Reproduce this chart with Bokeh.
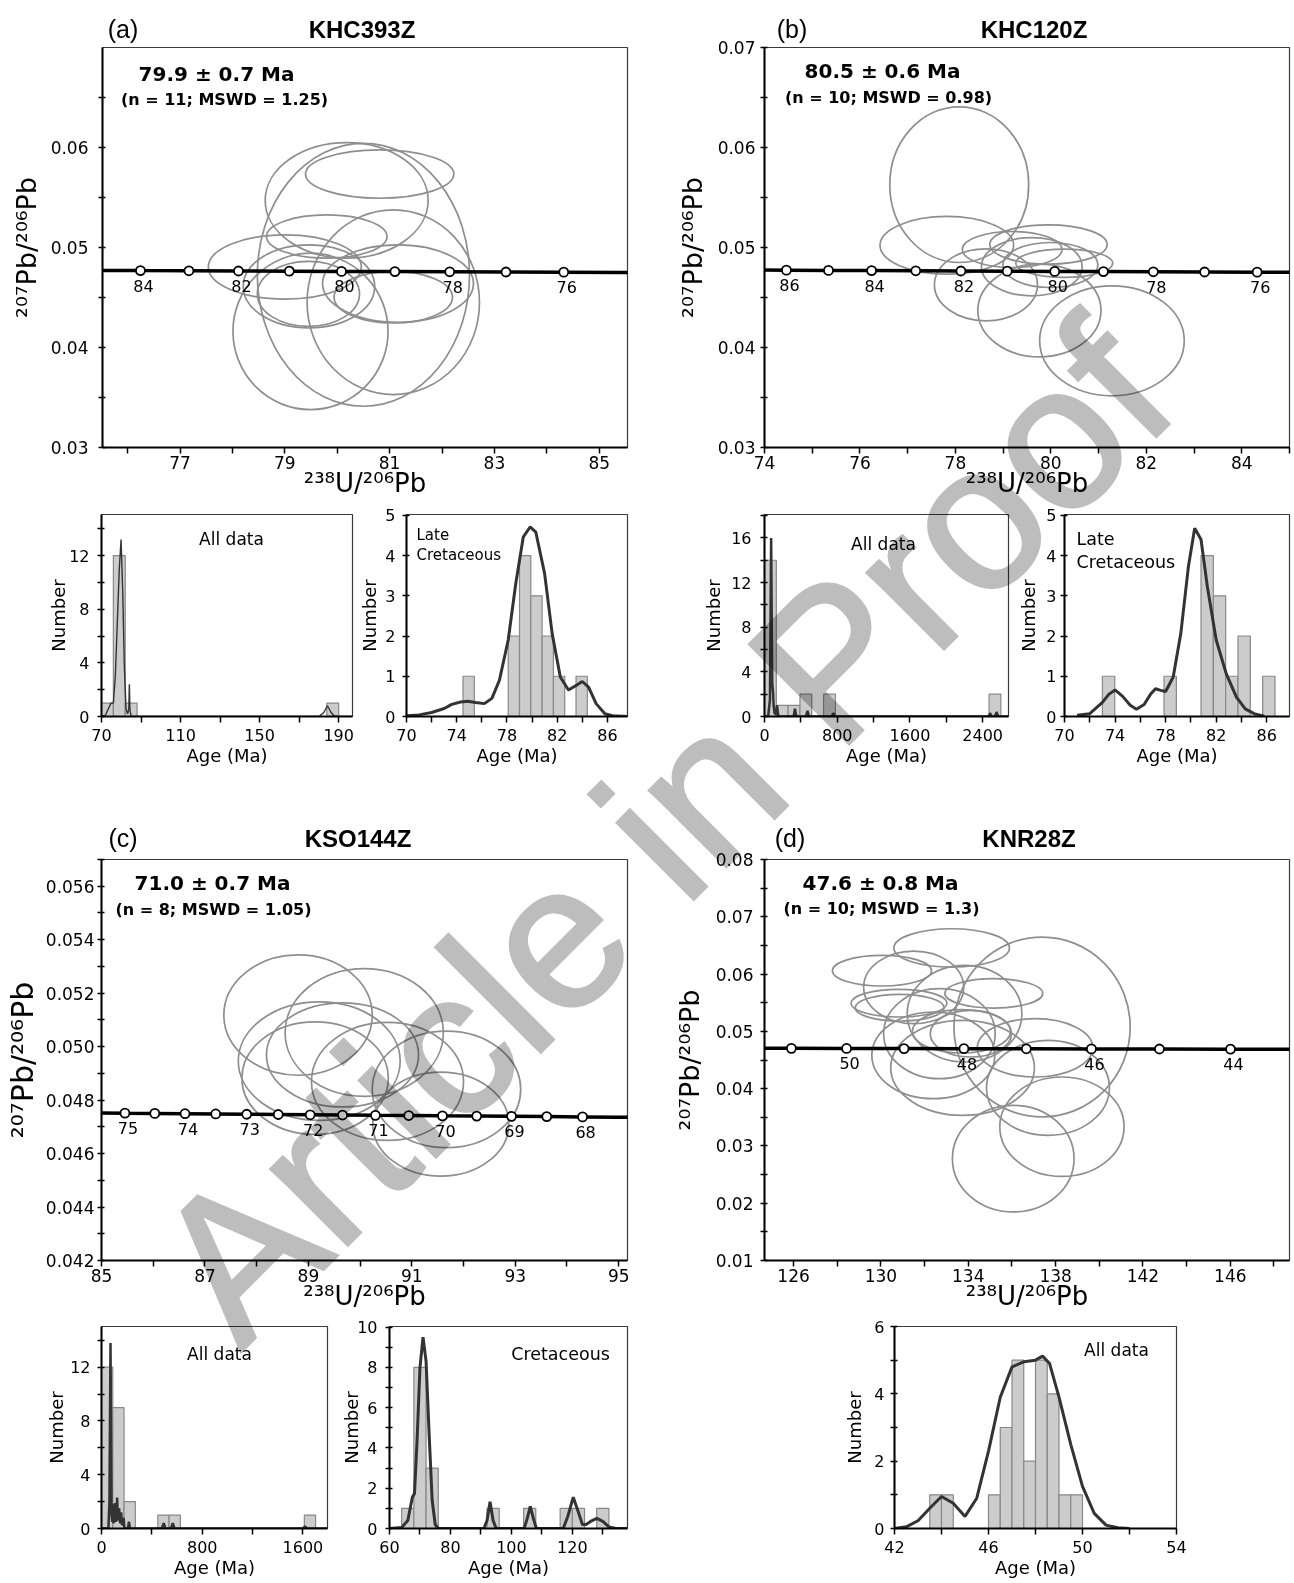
from bokeh.plotting import figure
from bokeh.models import Range1d, FixedTicker, PrintfTickFormatter, Label, Div
from bokeh.layouts import row, column
from bokeh.embed import file_html
from bokeh.resources import INLINE
from bokeh.core.properties import value

FONT = "DejaVu Sans"

# ---------------- panel titles ----------------
PANEL_TAGS = ["(a)", "(b)", "(c)", "(d)"]
PANEL_NAMES = ["KHC393Z", "KHC120Z", "KSO144Z", "KNR28Z"]

# ---------------- (a) KHC393Z ----------------
A_ell_x = [80.81, 80.18, 80.50, 79.49, 81.07, 79.80, 79.00, 79.46, 79.45, 81.07, 81.16]
A_ell_y = [0.05734, 0.05471, 0.04727, 0.04161, 0.04453, 0.05110, 0.04805, 0.04611, 0.04536, 0.04503, 0.04639]
A_ell_w = [2.83, 3.11, 4.05, 2.96, 3.29, 2.30, 2.92, 2.51, 1.95, 2.26, 2.88]
A_ell_h = [0.00483, 0.01155, 0.02629, 0.01564, 0.01847, 0.00433, 0.00642, 0.00832, 0.00649, 0.00516, 0.00775]
A_conc_x = [75.341, 76.244, 77.169, 78.115, 79.086, 80.081, 81.101, 82.147, 83.221, 84.323, 85.453, 86.615]
A_conc_y = [0.047711, 0.047691, 0.047671, 0.047651, 0.047631, 0.047611, 0.047591, 0.047571, 0.047551, 0.047531, 0.047511, 0.047491]
A_mark_x = [76.244, 77.169, 78.115, 79.086, 80.081, 81.101, 82.147, 83.221, 84.323]
A_mark_y = [0.047691, 0.047671, 0.047651, 0.047631, 0.047611, 0.047591, 0.047571, 0.047551, 0.047531]
A_age_x = [76.244, 78.115, 80.081, 82.147, 84.323]
A_age_y = [0.047691, 0.047651, 0.047611, 0.047571, 0.047531]
A_age_t = ["84", "82", "80", "78", "76"]

# ---------------- (b) KHC120Z ----------------
B_ell_x = [78.08, 77.82, 78.64, 79.76, 81.28, 79.19, 79.95, 79.60, 79.99, 80.28]
B_ell_y = [0.05628, 0.05022, 0.04627, 0.04370, 0.04067, 0.04980, 0.05030, 0.04808, 0.04825, 0.04842]
B_ell_w = [2.91, 2.80, 2.16, 2.58, 3.03, 2.09, 2.46, 2.11, 1.99, 2.03]
B_ell_h = [0.01557, 0.00577, 0.00720, 0.00927, 0.01100, 0.00360, 0.00393, 0.00583, 0.00450, 0.00283]
B_conc_x = [73.597, 74.459, 75.341, 76.244, 77.169, 78.115, 79.086, 80.081, 81.101, 82.147, 83.221, 84.323, 85.453]
B_conc_y = [0.047751, 0.047731, 0.047711, 0.047691, 0.047671, 0.047651, 0.047631, 0.047611, 0.047591, 0.047571, 0.047551, 0.047531, 0.047511]
B_mark_x = [74.459, 75.341, 76.244, 77.169, 78.115, 79.086, 80.081, 81.101, 82.147, 83.221, 84.323]
B_mark_y = [0.047731, 0.047711, 0.047691, 0.047671, 0.047651, 0.047631, 0.047611, 0.047591, 0.047571, 0.047551, 0.047531]
B_age_x = [74.459, 76.244, 78.115, 80.081, 82.147, 84.323]
B_age_y = [0.047731, 0.047691, 0.047651, 0.047611, 0.047571, 0.047531]
B_age_t = ["86", "84", "82", "80", "78", "76"]

# ---------------- (c) KSO144Z ----------------
C_ell_x = [88.80, 90.08, 89.21, 89.13, 89.66, 90.53, 91.67, 91.56]
C_ell_y = [0.05118, 0.05053, 0.04946, 0.04882, 0.04969, 0.04870, 0.04840, 0.04710]
C_ell_w = [2.87, 3.06, 3.13, 2.83, 2.94, 2.94, 2.87, 2.63]
C_ell_h = [0.00450, 0.00478, 0.00443, 0.00421, 0.00389, 0.00442, 0.00436, 0.00389]
C_conc_x = [84.884, 85.453, 86.030, 86.615, 87.208, 87.808, 88.417, 89.035, 89.660, 90.296, 90.940, 91.592, 92.255, 92.927, 93.609, 94.301, 95.004, 95.716]
C_conc_y = [0.047521, 0.047511, 0.047501, 0.047491, 0.047481, 0.047471, 0.047461, 0.047451, 0.047441, 0.047431, 0.047422, 0.047412, 0.047402, 0.047392, 0.047382, 0.047372, 0.047362, 0.047352]
C_mark_x = [85.453, 86.030, 86.615, 87.208, 87.808, 88.417, 89.035, 89.660, 90.296, 90.940, 91.592, 92.255, 92.927, 93.609, 94.301]
C_mark_y = [0.047511, 0.047501, 0.047491, 0.047481, 0.047471, 0.047461, 0.047451, 0.047441, 0.047431, 0.047422, 0.047412, 0.047402, 0.047392, 0.047382, 0.047372]
C_age_x = [85.453, 86.615, 87.808, 89.035, 90.296, 91.592, 92.927, 94.301]
C_age_y = [0.047511, 0.047491, 0.047471, 0.047451, 0.047431, 0.047412, 0.047392, 0.047372]
C_age_t = ["75", "74", "73", "72", "71", "70", "69", "68"]

# ---------------- (d) KNR28Z ----------------
D_ell_x = [133.24, 130.05, 131.50, 130.83, 130.86, 135.17, 137.38, 133.83, 132.68, 133.69, 132.40, 133.74, 137.06, 137.65, 138.29, 136.06, 134.12]
D_ell_y = [0.06457, 0.06059, 0.05768, 0.05492, 0.05413, 0.05663, 0.05076, 0.05308, 0.04959, 0.05000, 0.04581, 0.04363, 0.04712, 0.04014, 0.03336, 0.02778, 0.04959]
D_ell_w = [5.29, 4.54, 4.58, 4.39, 4.07, 4.48, 8.07, 5.25, 5.11, 4.50, 5.63, 6.58, 5.29, 5.63, 5.69, 5.57, 3.72]
D_ell_h = [0.00669, 0.00535, 0.01268, 0.00483, 0.00465, 0.00512, 0.03141, 0.01687, 0.01571, 0.00756, 0.01512, 0.01658, 0.01018, 0.01658, 0.01734, 0.01862, 0.00814]
D_conc_x = [123.470, 125.901, 128.428, 131.060, 133.801, 136.659, 139.640, 142.754, 146.010, 149.417]
D_conc_y = [0.047055, 0.047035, 0.047015, 0.046996, 0.046976, 0.046956, 0.046936, 0.046917, 0.046897, 0.046877]
D_mark_x = [125.901, 128.428, 131.060, 133.801, 136.659, 139.640, 142.754, 146.010]
D_mark_y = [0.047035, 0.047015, 0.046996, 0.046976, 0.046956, 0.046936, 0.046917, 0.046897]
D_age_x = [128.428, 133.801, 139.640, 146.010]
D_age_y = [0.047015, 0.046976, 0.046936, 0.046897]
D_age_t = ["50", "48", "46", "44"]

# ---------------- histograms ----------------
A1_left = [70, 76, 82, 184]
A1_right = [76, 82, 88, 190]
A1_count = [1, 12, 1, 1]
A1_kde_x = [70, 72, 73.5, 74.8, 76, 77, 78, 79, 79.9, 80.8, 81.5, 82.4, 83.2, 83.8, 84.1, 84.4, 85, 180, 182.5, 184.3, 186.2, 188, 197]
A1_kde_y = [0, 0.1, 0.6, 1.0, 1.0, 3.0, 7.0, 11.0, 13.2, 9.0, 4.0, 0.6, 0.2, 0.5, 2.4, 0.5, 0, 0, 0.3, 0.8, 0.3, 0, 0]

A2_left = [74.5, 78.1, 79.0, 79.9, 80.8, 81.7, 83.5]
A2_right = [75.4, 79.0, 79.9, 80.8, 81.7, 82.6, 84.4]
A2_count = [1, 2, 4, 3, 2, 1, 1]
A2_kde_x = [70, 71, 72, 73, 73.6, 74.3, 74.9, 75.5, 76.2, 76.8, 77.4, 78.1, 78.7, 79.3, 79.84, 80.3, 81.0, 81.6, 82.25, 82.9, 83.5, 84.0, 84.5, 85.1, 85.8, 86.4, 87.6]
A2_kde_y = [0.02, 0.04, 0.1, 0.2, 0.3, 0.36, 0.38, 0.35, 0.32, 0.45, 0.9, 1.9, 3.3, 4.46, 4.71, 4.58, 3.55, 2.06, 0.98, 0.66, 0.77, 0.87, 0.73, 0.32, 0.07, 0.02, 0.0]

B1_left = [0, 130, 260, 390, 650, 2470]
B1_right = [130, 260, 390, 520, 780, 2600]
B1_count = [14, 1, 1, 2, 2, 2]
B1_kde_x = [0, 40, 60, 73, 85, 95, 100, 110, 125, 138, 150, 170, 320, 335, 350, 455, 473, 490, 740, 757, 775, 2465, 2483, 2500, 2535, 2552, 2570, 2684]
B1_kde_y = [0, 0, 1.5, 16, 3, 2.0, 1.0, 0.3, 0.2, 1.0, 0.1, 0, 0, 0.7, 0, 0, 0.5, 0, 0, 0.3, 0, 0, 0.3, 0, 0, 0.4, 0, 0]

B2_left = [73.0, 77.875, 80.8, 81.775, 82.75, 83.725, 85.675]
B2_right = [73.975, 78.85, 81.775, 82.75, 83.725, 84.7, 86.65]
B2_count = [1, 1, 4, 3, 1, 2, 1]
B2_kde_x = [71, 72, 73, 73.5, 74.0, 74.6, 75.2, 75.7, 76.3, 76.8, 77.2, 77.6, 78.0, 78.6, 79.2, 79.8, 80.3, 80.8, 81.3, 82.0, 82.8, 83.6, 84.3, 85.0, 85.8]
B2_kde_y = [0.03, 0.07, 0.35, 0.55, 0.66, 0.5, 0.28, 0.18, 0.3, 0.55, 0.69, 0.65, 0.62, 0.98, 2.06, 3.72, 4.68, 4.4, 3.23, 1.9, 1.06, 0.48, 0.19, 0.07, 0.01]

C1_left = [0, 89.5, 179, 447.5, 537, 1611]
C1_right = [89.5, 179, 268.5, 537, 626.5, 1700.5]
C1_count = [12, 9, 2, 1, 1, 1]
C1_kde_x = [0, 55, 63, 71.5, 80, 86, 91, 96, 101, 107, 113, 118, 124, 130, 135, 140, 146, 151, 156, 162, 170, 176, 182, 210, 218, 226, 480, 494, 508, 552, 566, 580, 1600, 1616, 1632, 1795]
C1_kde_y = [0, 0, 2, 13.8, 1.0, 0.5, 1.8, 0.4, 0.6, 1.9, 0.5, 0.7, 2.3, 0.8, 0.6, 1.5, 0.5, 0.4, 1.2, 0.3, 0.3, 0.8, 0, 0, 0.5, 0, 0, 0.4, 0, 0, 0.4, 0, 0, 0.15, 0, 0]

C2_left = [64, 68, 72, 92, 104, 116, 120, 128]
C2_right = [68, 72, 76, 96, 108, 120, 124, 132]
C2_count = [1, 8, 3, 1, 1, 1, 1, 1]
C2_kde_x = [60, 64, 66, 67.5, 68.2, 69, 70, 71, 72, 73, 74, 75, 76, 91, 92, 93, 94, 95, 104.2, 105.2, 106.2, 107.2, 108.2, 117, 118.5, 120.3, 122, 123.3, 124.5, 126, 128, 130, 132, 134, 138]
C2_kde_y = [0, 0.05, 0.4, 1.55, 1.74, 4.2, 8.0, 9.5, 8.3, 4.7, 1.4, 0.2, 0, 0, 0.4, 1.33, 0.4, 0, 0, 0.5, 1.1, 0.5, 0, 0, 0.6, 1.55, 0.8, 0.2, 0.2, 0.35, 0.5, 0.35, 0.08, 0.01, 0]

D1_left = [43.5, 44.0, 46.0, 46.5, 47.0, 47.5, 48.0, 48.5, 49.0, 49.5]
D1_right = [44.0, 44.5, 46.5, 47.0, 47.5, 48.0, 48.5, 49.0, 49.5, 50.0]
D1_count = [1, 1, 1, 3, 5, 2, 5, 4, 1, 1]
D1_kde_x = [42, 42.5, 43, 43.5, 44, 44.5, 45, 45.5, 46, 46.5, 47, 47.5, 48, 48.3, 48.6, 49, 49.5, 50, 50.5, 51, 51.5, 52]
D1_kde_y = [0, 0.05, 0.23, 0.6, 0.95, 0.75, 0.36, 0.9, 2.3, 3.9, 4.8, 4.95, 5.0, 5.12, 4.9, 3.9, 2.5, 1.25, 0.45, 0.1, 0.02, 0]

# ---------------- helpers ----------------
def base_fig(g, xr, yr):
    x0, y0, w, h, bl, br, bt, bb = g
    p = figure(width=w, height=h, x_range=Range1d(*xr), y_range=Range1d(*yr),
               output_backend="svg", toolbar_location=None,
               min_border_left=bl, min_border_right=br, min_border_top=bt, min_border_bottom=bb)
    p.xgrid.visible = False
    p.ygrid.visible = False
    p.outline_line_color = "#3a3a3a"
    p.outline_line_width = 1.2
    p.background_fill_color = "white"
    p.border_fill_color = "white"
    return p


def style_axis(ax, major, minor, fmt, label, label_size, tick_size, t_out, t_in, standoff, lab_standoff):
    ax.ticker = FixedTicker(ticks=major, minor_ticks=minor)
    ax.formatter = PrintfTickFormatter(format=fmt)
    ax.axis_label = label
    ax.axis_label_text_font = FONT
    ax.axis_label_text_font_size = f"{label_size}px"
    ax.axis_label_text_font_style = "normal"
    ax.axis_label_text_color = "black"
    ax.axis_label_standoff = lab_standoff
    ax.major_label_text_font = FONT
    ax.major_label_text_font_size = f"{tick_size}px"
    ax.major_label_text_color = "black"
    ax.major_label_standoff = standoff
    ax.axis_line_color = "black"
    ax.axis_line_width = 2
    ax.major_tick_line_color = "black"
    ax.minor_tick_line_color = "black"
    ax.major_tick_line_width = 1.5
    ax.minor_tick_line_width = 1.5
    ax.major_tick_out = t_out
    ax.major_tick_in = t_in
    ax.minor_tick_out = t_out
    ax.minor_tick_in = t_in


def put(p, g, px, py, text, size, bold=False, align="center"):
    x0, y0, w, h, bl, br, bt, bb = g
    fx0 = x0 + bl
    fy1 = y0 + h - bb
    p.add_layout(Label(x=px - fx0, y=fy1 - py, x_units="screen", y_units="screen", text=text,
                       text_font=FONT, text_font_size=f"{size}px",
                       text_font_style="bold" if bold else "normal",
                       text_align=align, text_baseline="middle", text_color="black"))


def concordia(g, xr, yr, ex, ey, ew, eh, cx, cy, mx, my, ax_, ay_, at_):
    p = base_fig(g, xr, yr)
    p.ellipse(x=ex, y=ey, width=ew, height=eh, fill_color=None, line_color="#8e8e8e", line_width=1.7)
    p.line(x=cx, y=cy, line_color="black", line_width=3.5)
    p.scatter(x=mx, y=my, marker="circle", size=9, fill_color="white", line_color="black", line_width=1.8)
    p.text(x=ax_, y=ay_, text=at_, x_offset=3, y_offset=15, text_align="center", text_baseline="middle",
           text_font=value(FONT), text_font_size=value("16px"), text_color="black")
    return p


def hist(g, xr, yr, left, right, count, kx, ky, kw):
    p = base_fig(g, xr, yr)
    p.quad(left=left, right=right, bottom=0, top=count, fill_color="#cccccc", line_color="#888888", line_width=1.2)
    p.line(x=kx, y=ky, line_color="#333333", line_width=kw)
    return p

YL = "\u00b2\u2070\u2077Pb/\u00b2\u2070\u2076Pb"
XL = "\u00b2\u00b3\u2078U/\u00b2\u2070\u2076Pb"

# geometry: x0, y0, width, height, border l, r, t, b
gA = (0, 0, 640, 504, 102, 13, 47, 56)
gB = (640, 0, 654, 504, 124, 5, 46, 57)
ga1 = (0, 504, 356, 296, 101, 4, 10, 84)
ga2 = (356, 504, 284, 296, 47, 13, 10, 84)
gb1 = (640, 504, 375, 296, 124, 7, 10, 84)
gb2 = (1015, 504, 279, 296, 48, 5, 10, 84)
gC = (0, 800, 640, 516, 101, 13, 59, 56)
gD = (640, 800, 654, 516, 124, 5, 59, 56)
gc1 = (0, 1316, 338, 267, 101, 11, 10, 55)
gc2 = (338, 1316, 302, 267, 48, 13, 10, 55)
gd1 = (640, 1316, 654, 267, 254, 118, 10, 55)

# ---------- concordia panels ----------
fA = concordia(gA, (75.52, 85.54), (0.03, 0.0700), A_ell_x, A_ell_y, A_ell_w, A_ell_h,
               A_conc_x, A_conc_y, A_mark_x, A_mark_y, A_age_x, A_age_y, A_age_t)
style_axis(fA.xaxis[0], [77, 79, 81, 83, 85], [76, 78, 80, 82, 84], "%d", XL, 26, 17, 6, 0, 2, -4)
style_axis(fA.yaxis[0], [0.03, 0.04, 0.05, 0.06], [0.035, 0.045, 0.055, 0.065], "%.2f", YL, 27, 17, 4, 3, 10, 6)
put(fA, gA, 216, 74, "79.9 \u00b1 0.7 Ma", 20, bold=True)
put(fA, gA, 224, 100, "(n = 11; MSWD = 1.25)", 16, bold=True)

fB = concordia(gB, (74.0, 85.0), (0.03, 0.07), B_ell_x, B_ell_y, B_ell_w, B_ell_h,
               B_conc_x, B_conc_y, B_mark_x, B_mark_y, B_age_x, B_age_y, B_age_t)
style_axis(fB.xaxis[0], [74, 76, 78, 80, 82, 84], [75, 77, 79, 81, 83, 85], "%d", XL, 26, 17, 6, 0, 2, -4)
style_axis(fB.yaxis[0], [0.03, 0.04, 0.05, 0.06, 0.07], [0.035, 0.045, 0.055, 0.065], "%.2f", YL, 27, 17, 4, 3, 5, 7)
put(fB, gB, 882, 70, "80.5 \u00b1 0.6 Ma", 20, bold=True)
put(fB, gB, 888, 97, "(n = 10; MSWD = 0.98)", 16, bold=True)

fC = concordia(gC, (85.0, 95.17), (0.042, 0.057), C_ell_x, C_ell_y, C_ell_w, C_ell_h,
               C_conc_x, C_conc_y, C_mark_x, C_mark_y, C_age_x, C_age_y, C_age_t)
style_axis(fC.xaxis[0], [85, 87, 89, 91, 93, 95], [86, 88, 90, 92, 94], "%d", XL, 26, 17, 6, 0, 2, -4)
style_axis(fC.yaxis[0], [0.042, 0.044, 0.046, 0.048, 0.050, 0.052, 0.054, 0.056],
           [0.043, 0.045, 0.047, 0.049, 0.051, 0.053, 0.055, 0.057], "%.3f", YL, 30, 17, 4, 3, 3, 3)
put(fC, gC, 212, 882, "71.0 \u00b1 0.7 Ma", 20, bold=True)
put(fC, gC, 213, 909, "(n = 8; MSWD = 1.05)", 16, bold=True)

fD = concordia(gD, (124.67, 148.71), (0.01, 0.08), D_ell_x, D_ell_y, D_ell_w, D_ell_h,
               D_conc_x, D_conc_y, D_mark_x, D_mark_y, D_age_x, D_age_y, D_age_t)
style_axis(fD.xaxis[0], [126, 130, 134, 138, 142, 146], [128, 132, 136, 140, 144, 148], "%d", XL, 26, 17, 6, 0, 2, -4)
style_axis(fD.yaxis[0], [0.01, 0.02, 0.03, 0.04, 0.05, 0.06, 0.07, 0.08],
           [0.015, 0.025, 0.035, 0.045, 0.055, 0.065, 0.075], "%.2f", YL, 27, 17, 4, 3, 7, 8)
put(fD, gD, 880, 882, "47.6 \u00b1 0.8 Ma", 20, bold=True)
put(fD, gD, 881, 908, "(n = 10; MSWD = 1.3)", 16, bold=True)

# ---------- histograms ----------
NUM = "Number"
AGE = "Age (Ma)"

h_a1 = hist(ga1, (70, 197), (0, 15.06), A1_left, A1_right, A1_count, A1_kde_x, A1_kde_y, 1.4)
style_axis(h_a1.xaxis[0], [70, 110, 150, 190], [90, 130, 170], "%d", AGE, 18, 16, 6, 0, 6, 1)
style_axis(h_a1.yaxis[0], [0, 4, 8, 12], [2, 6, 10, 14], "%d", NUM, 18, 16, 4, 3, 8, -3)
put(h_a1, ga1, 231, 538, "All data", 17)

h_a2 = hist(ga2, (70, 87.6), (0, 5.02), A2_left, A2_right, A2_count, A2_kde_x, A2_kde_y, 3)
style_axis(h_a2.xaxis[0], [70, 74, 78, 82, 86], [72, 76, 80, 84], "%d", AGE, 18, 16, 6, 0, 6, 1)
style_axis(h_a2.yaxis[0], [0, 1, 2, 3, 4, 5], [], "%d", NUM, 18, 16, 4, 3, 7, 2)
put(h_a2, ga2, 413, 534, "Late", 15, align="left")
put(h_a2, ga2, 413, 554, "Cretaceous", 15, align="left")

h_b1 = hist(gb1, (0, 2684), (0, 18.1), B1_left, B1_right, B1_count, B1_kde_x, B1_kde_y, 2.5)
style_axis(h_b1.xaxis[0], [0, 800, 1600, 2400], [400, 1200, 2000], "%d", AGE, 18, 16, 6, 0, 6, 1)
style_axis(h_b1.yaxis[0], [0, 4, 8, 12, 16], [2, 6, 10, 14, 18], "%d", NUM, 18, 16, 4, 3, 9, 4)
put(h_b1, gb1, 883, 543, "All data", 17)

h_b2 = hist(gb2, (70, 87.8), (0, 5.02), B2_left, B2_right, B2_count, B2_kde_x, B2_kde_y, 3)
style_axis(h_b2.xaxis[0], [70, 74, 78, 82, 86], [72, 76, 80, 84], "%d", AGE, 18, 16, 6, 0, 6, 1)
style_axis(h_b2.yaxis[0], [0, 1, 2, 3, 4, 5], [], "%d", NUM, 18, 16, 4, 3, 4, 4)
put(h_b2, gb2, 1075, 538, "Late", 17.5, align="left")
put(h_b2, gb2, 1075, 561, "Cretaceous", 17.5, align="left")

h_c1 = hist(gc1, (0, 1795), (0, 15.03), C1_left, C1_right, C1_count, C1_kde_x, C1_kde_y, 2.5)
style_axis(h_c1.xaxis[0], [0, 800, 1600], [400, 1200], "%d", AGE, 18, 16, 6, 0, 6, 1)
style_axis(h_c1.yaxis[0], [0, 4, 8, 12], [2, 6, 10, 14], "%d", NUM, 18, 16, 4, 3, 7, 0)
put(h_c1, gc1, 219, 1353, "All data", 17)

h_c2 = hist(gc2, (60, 138.1), (0, 10.03), C2_left, C2_right, C2_count, C2_kde_x, C2_kde_y, 3)
style_axis(h_c2.xaxis[0], [60, 80, 100, 120], [70, 90, 110, 130], "%d", AGE, 18, 16, 6, 0, 6, 1)
style_axis(h_c2.yaxis[0], [0, 2, 4, 6, 8, 10], [1, 3, 5, 7, 9], "%d", NUM, 18, 16, 4, 3, 8, -8)
put(h_c2, gc2, 557, 1353, "Cretaceous", 17.5)

h_d1 = hist(gd1, (42, 54), (0, 6.0), D1_left, D1_right, D1_count, D1_kde_x, D1_kde_y, 3)
style_axis(h_d1.xaxis[0], [42, 46, 50, 54], [44, 48, 52], "%d", AGE, 18, 16, 6, 0, 6, 1)
style_axis(h_d1.yaxis[0], [0, 2, 4, 6], [1, 3, 5], "%d", NUM, 18, 16, 4, 3, 6, 6)
put(h_d1, gd1, 1116, 1349, "All data", 17)

# ---------- overlay: panel titles and watermark ----------
TAG_POS = [(118, 24), (787, 24), (118, 833), (785, 833)]
NAME_POS = [(357, 24), (1029, 24), (353, 833), (1024, 833)]
parts = ['<svg xmlns="http://www.w3.org/2000/svg" width="1294" height="1583" style="display:block">',
         '<text x="236.1" y="1346.9" transform="rotate(-45 236.1 1346.9)" '
         'font-family="Liberation Serif, DejaVu Serif, serif" font-size="205" fill="#bdbdbd" '
         'stroke="#bdbdbd" stroke-width="3">Article in Proof</text>']
for (tx, ty), t in zip(TAG_POS, PANEL_TAGS):
    parts.append(f'<text x="{tx}" y="{ty}" text-anchor="middle" dominant-baseline="central" '
                 f'font-family="DejaVu Sans" font-size="25" fill="black">{t}</text>')
for (tx, ty), t in zip(NAME_POS, PANEL_NAMES):
    parts.append(f'<text x="{tx}" y="{ty}" text-anchor="middle" dominant-baseline="central" '
                 f'font-family="DejaVu Sans" font-weight="bold" font-size="24" fill="black">{t}</text>')
parts.append('</svg>')
overlay = Div(text="".join(parts), width=1294, height=1583,
              styles={"position": "absolute", "left": "0px", "top": "0px", "z-index": "10",
                      "pointer-events": "none", "mix-blend-mode": "multiply"})

layout = column(row(fA, fB), row(h_a1, h_a2, h_b1, h_b2), row(fC, fD), row(h_c1, h_c2, h_d1), overlay)
open("out.html", "w").write(file_html(layout, INLINE, "Concordia"))
